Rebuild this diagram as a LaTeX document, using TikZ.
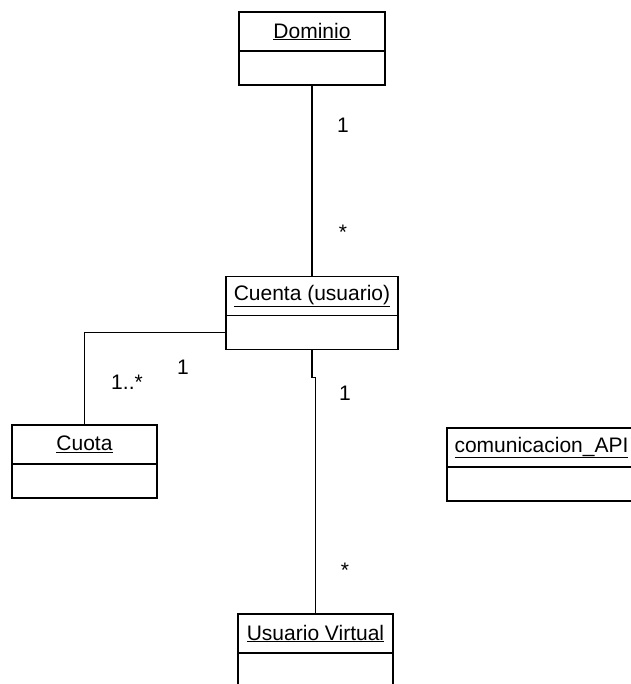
\documentclass[tikz,border=0pt]{standalone}
\usepackage{fontspec}
\setmainfont{Liberation Sans}
\usetikzlibrary{positioning}

\begin{document}
\begin{tikzpicture}[x=1pt,y=1pt,
		clase/.style={draw,line width=1.4pt,minimum height=39pt,inner sep=0pt,outer sep=0pt,font=\fontsize{21}{25}\selectfont},
		cuerpo/.style={draw,line width=1.4pt,minimum height=34pt,inner sep=0pt,outer sep=0pt},
		mult/.style={inner sep=0pt,font=\fontsize{21}{25}\selectfont},
		assoc/.style={line width=1.5pt}]
	\useasboundingbox (0,0) rectangle (630,-684);
	% clases
	\node[clase,minimum width=146pt] (dominio) at (312,-31.5) {\underline{Dominio}};
	\node[cuerpo,minimum width=146pt,below=0pt of dominio] (dominio-c) {};
	\node[clase,minimum width=172pt] (cuenta) at (312,-296) {\underline{Cuenta (usuario)}};
	\node[cuerpo,minimum width=172pt,below=0pt of cuenta] (cuenta-c) {};
	\node[clase,minimum width=145pt] (cuota) at (84.5,-444.5) {\underline{Cuota}};
	\node[cuerpo,minimum width=145pt,below=0pt of cuota] (cuota-c) {};
	\node[clase,minimum width=189pt] (api) at (541.5,-447.5) {\underline{comunicacion\_API}};
	\node[cuerpo,minimum width=189pt,below=0pt of api] (api-c) {};
	\node[clase,minimum width=155pt] (virtual) at (315.5,-633.5) {\underline{Usuario Virtual}};
	\node[cuerpo,minimum width=155pt,below=0pt of virtual] (virtual-c) {};
	% asociaciones
	\draw[assoc] (dominio-c.south) -- (cuenta.north);
	\draw[assoc] (cuenta-c.west) -| (cuota.north);
	\draw[assoc] (cuenta-c.south) -- ++(0,-28) -| (virtual.north);
	% multiplicidades
	\node[mult] (m1) at (343,-125) {1};
	\node[mult] (m2) at (343,-232) {*};
	\node[mult] (m3) at (127,-382) {1..*};
	\node[mult] (m4) at (183,-367) {1};
	\node[mult] (m5) at (345,-393) {1};
	\node[mult] (m6) at (345,-570) {*};
\end{tikzpicture}
\end{document}
